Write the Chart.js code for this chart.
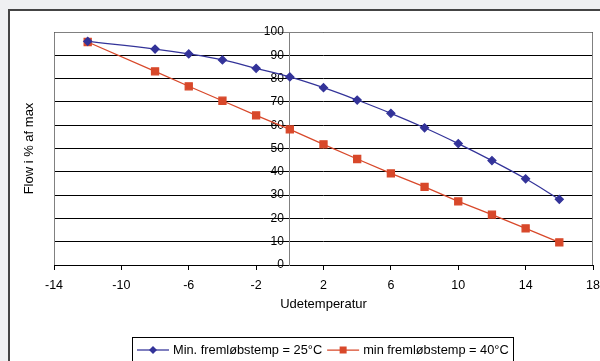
<!DOCTYPE html>
<html>
<head>
<meta charset="utf-8">
<script src="https://cdn.jsdelivr.net/npm/chart.js@4/dist/chart.umd.min.js"></script>
<style>
  html, body { margin: 0; padding: 0; background: #eff0f2; }
  #wrap { width: 600px; height: 361px; position: relative; }
</style>
</head>
<body>
<div id="wrap"><canvas id="flow" width="600" height="361"></canvas></div>
<script>
// =====================
// Flow vs. outdoor temperature
// =====================
var temps = [-12, -8, -6, -4, -2, 0, 2, 4, 6, 8, 10, 12, 14, 16];
var flow25 = [96, 92.7, 90.6, 88, 84.4, 80.7, 76.1, 70.8, 65.1, 58.9, 52.1, 44.8, 37, 28.2];
var flow40 = [95.7, 83.1, 76.7, 70.5, 64.2, 58.2, 51.8, 45.5, 39.3, 33.5, 27.3, 21.6, 15.7, 9.7];
var seriesNames = ['Min. fremløbstemp = 25°C', 'min fremløbstemp = 40°C'];
var xTitle = 'Udetemperatur';
var yTitle = 'Flow i % af max';

var FONT = '"Liberation Sans", Arial, sans-serif';

function toPoints(xs, ys) {
  return xs.map(function (x, i) { return { x: x, y: ys[i] }; });
}

// frame, plot border, y labels next to the crossing axis, titles and legend box
var decorations = {
  id: 'decorations',
  beforeDraw: function (chart) {
    var ctx = chart.ctx;
    ctx.save();
    ctx.fillStyle = '#eff0f2';
    ctx.fillRect(0, 0, chart.width, chart.height);
    ctx.fillStyle = '#ffffff';
    ctx.fillRect(8, 9, chart.width, chart.height);
    ctx.strokeStyle = '#444444';
    ctx.lineWidth = 2;
    ctx.beginPath();
    ctx.moveTo(9, chart.height + 5);
    ctx.lineTo(9, 10);
    ctx.lineTo(chart.width + 5, 10);
    ctx.stroke();
    ctx.restore();
  },
  beforeDatasetsDraw: function (chart) {
    var ctx = chart.ctx, a = chart.chartArea;
    ctx.save();
    ctx.strokeStyle = '#808080';
    ctx.lineWidth = 1;
    ctx.beginPath();
    ctx.moveTo(a.left + 0.5, a.bottom);
    ctx.lineTo(a.left + 0.5, a.top + 0.5);
    ctx.lineTo(a.right - 0.5, a.top + 0.5);
    ctx.lineTo(a.right - 0.5, a.bottom);
    ctx.stroke();

    // y tick labels sit left of the axis at x = 0
    var ys = chart.scales.y, xs = chart.scales.x;
    var ax = xs.getPixelForValue(0);
    ctx.fillStyle = '#000';
    ctx.font = '12px ' + FONT;
    ctx.textAlign = 'right';
    ctx.textBaseline = 'middle';
    ys.ticks.forEach(function (t) {
      ctx.fillText(String(t.value), ax - 6, ys.getPixelForValue(t.value));
    });
    ctx.restore();
  },
  afterDraw: function (chart) {
    var ctx = chart.ctx, a = chart.chartArea;
    ctx.save();
    ctx.fillStyle = '#000';
    ctx.font = '13px ' + FONT;
    ctx.textAlign = 'center';
    ctx.textBaseline = 'middle';
    ctx.fillText(xTitle, (a.left + a.right) / 2, 304);
    ctx.translate(29, (a.top + a.bottom) / 2);
    ctx.rotate(-Math.PI / 2);
    ctx.fillText(yTitle, 0, 0);
    ctx.restore();

    // legend
    var left = 132.5, top = 337.5, right = 513.5;
    ctx.save();
    ctx.strokeStyle = '#000';
    ctx.lineWidth = 1;
    ctx.strokeRect(left, top, right - left, 40);
    ctx.font = '12.8px ' + FONT;
    ctx.textBaseline = 'middle';
    ctx.textAlign = 'left';
    var x = 137, y = 350;
    chart.data.datasets.forEach(function (ds) {
      ctx.strokeStyle = ds.borderColor;
      ctx.lineWidth = 1.25;
      ctx.beginPath();
      ctx.moveTo(x, y);
      ctx.lineTo(x + 32, y);
      ctx.stroke();
      ctx.fillStyle = ds.pointBackgroundColor;
      ctx.beginPath();
      if (ds.pointStyle === 'rect') {
        ctx.rect(x + 16 - 3.5, y - 3.5, 7, 7);
      } else {
        ctx.moveTo(x + 16, y - 4);
        ctx.lineTo(x + 20, y);
        ctx.lineTo(x + 16, y + 4);
        ctx.lineTo(x + 12, y);
        ctx.closePath();
      }
      ctx.fill();
      ctx.fillStyle = '#000';
      ctx.fillText(ds.label, x + 36, y);
      x += 36 + ctx.measureText(ds.label).width + 5;
    });
    ctx.restore();
  }
};

var ctxFlow = document.getElementById('flow').getContext('2d');

var flowChart = new Chart(ctxFlow, {
  type: 'line',
  data: {
    datasets: [
      {
        label: seriesNames[0],
        data: toPoints(temps, flow25),
        borderColor: '#333399',
        backgroundColor: '#333399',
        pointBackgroundColor: '#333399',
        pointBorderColor: '#333399',
        pointStyle: 'rectRot',
        pointRadius: 4,
        borderWidth: 1.25,
        tension: 0.4
      },
      {
        label: seriesNames[1],
        data: toPoints(temps, flow40),
        borderColor: '#d8482a',
        backgroundColor: '#d8482a',
        pointBackgroundColor: '#d8482a',
        pointBorderColor: '#d8482a',
        pointStyle: 'rect',
        pointRadius: 5,
        borderWidth: 1.25,
        tension: 0
      }
    ]
  },
  options: {
    responsive: false,
    animation: false,
    layout: { padding: { left: 54, top: 32, right: 7, bottom: 0 } },
    plugins: {
      legend: { display: false },
      tooltip: { enabled: false }
    },
    scales: {
      x: {
        type: 'linear',
        min: -14,
        max: 18,
        afterFit: function (s) {
          s.height = 96;
          s.paddingLeft = 0;
          s.paddingRight = 0;
        },
        ticks: {
          stepSize: 4,
          color: '#000',
          font: { family: FONT, size: 12.5 },
          padding: 8,
          maxRotation: 0
        },
        grid: { drawOnChartArea: false, color: '#000', tickLength: 5 },
        border: { color: '#000' }
      },
      y: {
        position: { x: 0 },
        min: 0,
        max: 100,
        ticks: {
          stepSize: 10,
          display: false
        },
        grid: { color: '#000', tickLength: 4 },
        border: { color: '#808080' }
      }
    }
  },
  plugins: [decorations]
});
</script>
</body>
</html>
